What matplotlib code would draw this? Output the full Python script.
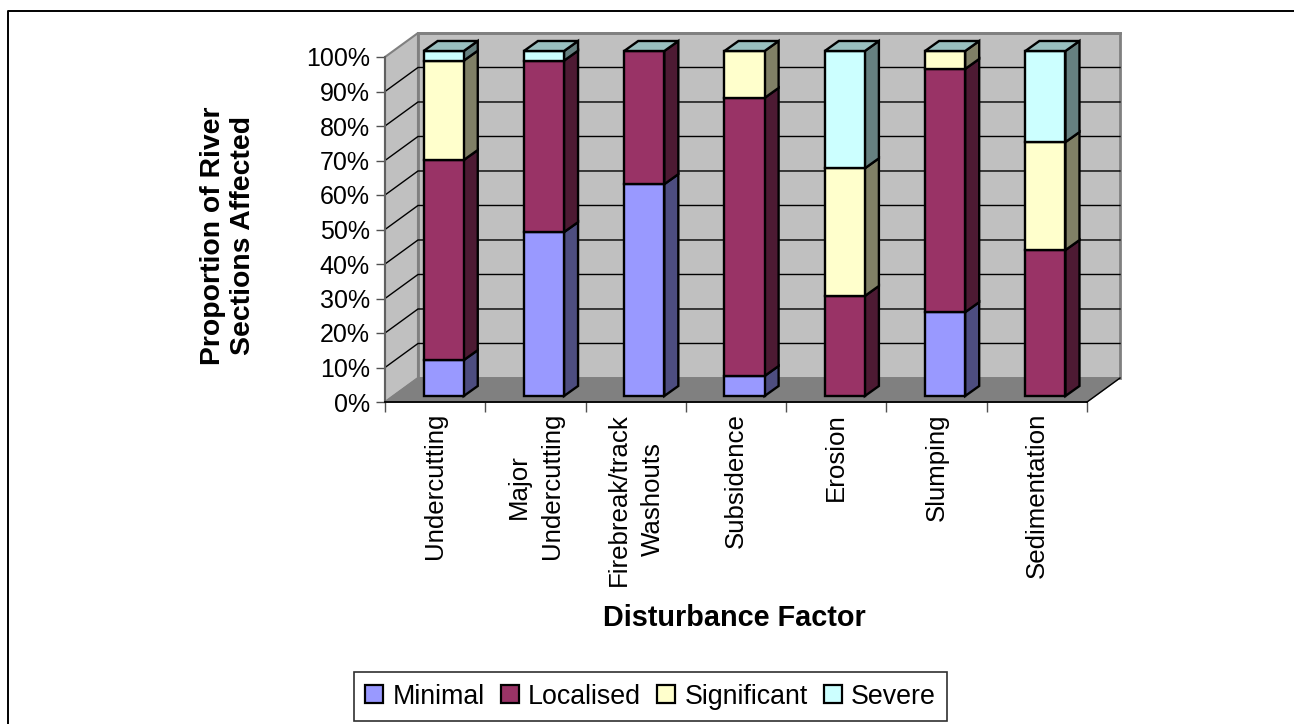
import matplotlib
matplotlib.use("Agg")
import matplotlib.pyplot as plt
from matplotlib.patches import Polygon, Rectangle
from matplotlib.lines import Line2D

plt.rcParams['font.family'] = ['Liberation Sans', 'DejaVu Sans']

categories = ['Undercutting', 'Major\nUndercutting', 'Firebreak/track\nWashouts', 'Subsidence',
              'Erosion', 'Slumping', 'Sedimentation']
series_names = ['Minimal', 'Localised', 'Significant', 'Severe']
minimal = [10.4, 47.5, 61.4, 5.8, 0, 24.3, 0]
localised = [58.0, 49.7, 38.6, 80.6, 29.0, 70.5, 42.3]
significant = [28.8, 0, 0, 13.6, 37.0, 5.2, 31.3]
severe = [2.8, 2.8, 0, 0, 34.0, 0, 26.4]
all_series = [minimal, localised, significant, severe]
yticks = list(range(0, 101, 10))

front = ['#9999FF', '#993366', '#FFFFCC', '#CCFFFF']
side = ['#4D4D80', '#4D1A33', '#808066', '#668080']
top_col = '#99BFBF'

W, H = 1294, 724
fig = plt.figure(figsize=(W / 100, H / 100), dpi=100, facecolor='white')
ax = fig.add_axes([385 / W, 1 - 402 / H, 702 / W, 345 / H])
ax.set_xlim(0, 7)
ax.set_ylim(0, 100)
ax.patch.set_visible(False)

# depth of the box and of the bars, in data units
wall_dx, wall_dy = 0.329, 6.96
bar_x0, bar_y0 = 0.085, 1.74
bar_dx, bar_dy = 0.14, 2.9
bar_w = 0.4
edge = 1.7
K = dict(clip_on=False)

# walls and floor
ax.add_patch(Polygon([(0, 0), (wall_dx, wall_dy), (wall_dx, 100 + wall_dy), (0, 100)],
                     fc='#C0C0C0', ec='#808080', lw=1.5, zorder=1, **K))
ax.add_patch(Rectangle((wall_dx, wall_dy), 7, 100, fc='#C0C0C0', ec='#808080', lw=2, zorder=1, **K))
ax.add_patch(Polygon([(0, 0), (7, 0), (7 + wall_dx, wall_dy), (wall_dx, wall_dy)],
                     fc='#808080', ec='#808080', lw=1, zorder=1.5, **K))
for v in yticks[1:-1]:
    ax.plot([0, wall_dx, 7 + wall_dx], [v, v + wall_dy, v + wall_dy], color='black', lw=1, zorder=2, **K)
ax.plot([wall_dx, 7 + wall_dx], [100 + wall_dy] * 2, color='#808080', lw=2, zorder=2, **K)
ax.plot([7, 7 + wall_dx], [0, wall_dy], color='black', lw=1, zorder=2, **K)

# bars, bottom to top
for i in range(len(categories)):
    x0 = i + 0.5 - bar_w / 2 + bar_x0
    x1 = x0 + bar_w
    base = bar_y0
    for s, vals in enumerate(all_series):
        v = vals[i]
        if v == 0:
            continue
        y0 = base
        y1 = base + v
        ax.add_patch(Polygon([(x1, y0), (x1 + bar_dx, y0 + bar_dy), (x1 + bar_dx, y1 + bar_dy), (x1, y1)],
                             fc=side[s], ec='black', lw=edge, joinstyle='miter', zorder=3, **K))
        ax.add_patch(Rectangle((x0, y0), bar_w, y1 - y0, fc=front[s], ec='black', lw=edge, zorder=4, **K))
        base = y1
    ax.add_patch(Polygon([(x0, base), (x1, base), (x1 + bar_dx, base + bar_dy), (x0 + bar_dx, base + bar_dy)],
                         fc=top_col, ec='black', lw=edge, zorder=5, **K))

# axes
for name in ['top', 'right']:
    ax.spines[name].set_visible(False)
ax.spines['left'].set_color('#606060')
ax.spines['left'].set_linewidth(1.5)
ax.spines['bottom'].set_linewidth(1.3)
for sp in ax.spines.values():
    sp.set_zorder(6)
ax.set_yticks(yticks)
ax.set_yticklabels([str(v) + '%' for v in yticks], fontsize=18)
ax.tick_params(axis='y', length=6.5, width=1, color='#505050', pad=4.5)
ax.set_xticks(range(8))
ax.set_xticklabels([''] * 8)
ax.tick_params(axis='x', which='major', length=7.5, width=1, color='#505050')
ax.set_xticks([i + 0.5 for i in range(7)], minor=True)
ax.set_xticklabels(categories, minor=True, rotation=90, fontsize=18.6, ha='center', va='top',
                   ma='center', linespacing=1.5)
ax.tick_params(axis='x', which='minor', length=0, pad=8)

# axis titles and legend, placed in figure pixels
fig.text(734 / W, 1 - 618 / H, 'Disturbance Factor', fontsize=20.8, fontweight='bold',
         ha='center', va='center')
fig.text(228 / W, 1 - 236 / H, 'Proportion of River\nSections Affected', fontsize=20.4, fontweight='bold',
         rotation=90, ha='center', va='center', ma='center', linespacing=1.25)

handles = [Rectangle((0, 0), 1, 1, fc=c, ec='black', lw=1.6) for c in front]
leg = fig.legend(handles, series_names, loc='center', bbox_to_anchor=(650.5 / W, 1 - 696.5 / H), ncol=4,
                 fontsize=19.3, frameon=True, fancybox=False, edgecolor='#303030', framealpha=1,
                 handlelength=0.67, handleheight=0.67, handletextpad=0.35, columnspacing=0.6,
                 borderpad=0.42, borderaxespad=0)
leg.get_frame().set_linewidth(1.2)

# chart frame: only the top and left edges show in the reference
fig.lines.append(Line2D([7.5 / W, 7.5 / W, 1], [0, 1 - 11 / H, 1 - 11 / H], color='black', lw=1.4,
                        transform=fig.transFigure))

fig.savefig('out.png', dpi=100)
